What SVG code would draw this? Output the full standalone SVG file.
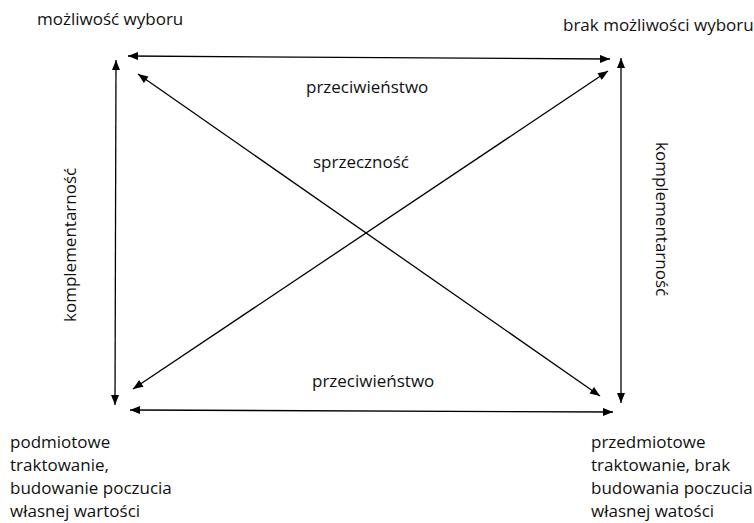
<svg xmlns="http://www.w3.org/2000/svg" width="754" height="523" viewBox="0 0 754 523">
<style>
text{font-family:"Open Sans","Liberation Sans",sans-serif;font-size:17px;fill:#111}
.c line{stroke:#000;stroke-width:1.3;marker-start:url(#ah);marker-end:url(#ah)}
</style>
<defs>
<marker id="ah" viewBox="0 0 10 8" refX="10" refY="4" markerWidth="11" markerHeight="8" markerUnits="userSpaceOnUse" orient="auto-start-reverse">
<path d="M0,0 L10,4 L0,8 z" fill="#000"/>
</marker>
</defs>
<rect width="754" height="523" fill="#fff"/>
<g id="n1"><text x="37" y="25">możliwość wyboru</text></g>
<g id="n2"><text x="563" y="31">brak możliwości wyboru</text></g>
<g id="n3"><text x="10" y="448">podmiotowe</text><text x="10" y="471">traktowanie,</text><text x="10" y="494">budowanie poczucia</text><text x="10" y="517">własnej wartości</text></g>
<g id="n4"><text x="591" y="448">przedmiotowe</text><text x="591" y="471">traktowanie, brak</text><text x="591" y="494">budowania poczucia</text><text x="591" y="517">własnej watości</text></g>
<g class="c" id="connectors">
<line x1="128" y1="56" x2="610" y2="59"/>
<line x1="116" y1="60" x2="115" y2="405"/>
<line x1="621" y1="58" x2="621" y2="403"/>
<line x1="130" y1="410" x2="613" y2="412"/>
<line x1="138" y1="74" x2="600" y2="396"/>
<line x1="608" y1="71" x2="133" y2="389"/>
<text x="306" y="93">przeciwieństwo</text>
<text x="313" y="168">sprzeczność</text>
<text x="312" y="387">przeciwieństwo</text>
<text transform="translate(76,322) rotate(-90)">komplementarność</text>
<text transform="translate(656,142) rotate(90)">komplementarność</text>
</g>
</svg>
